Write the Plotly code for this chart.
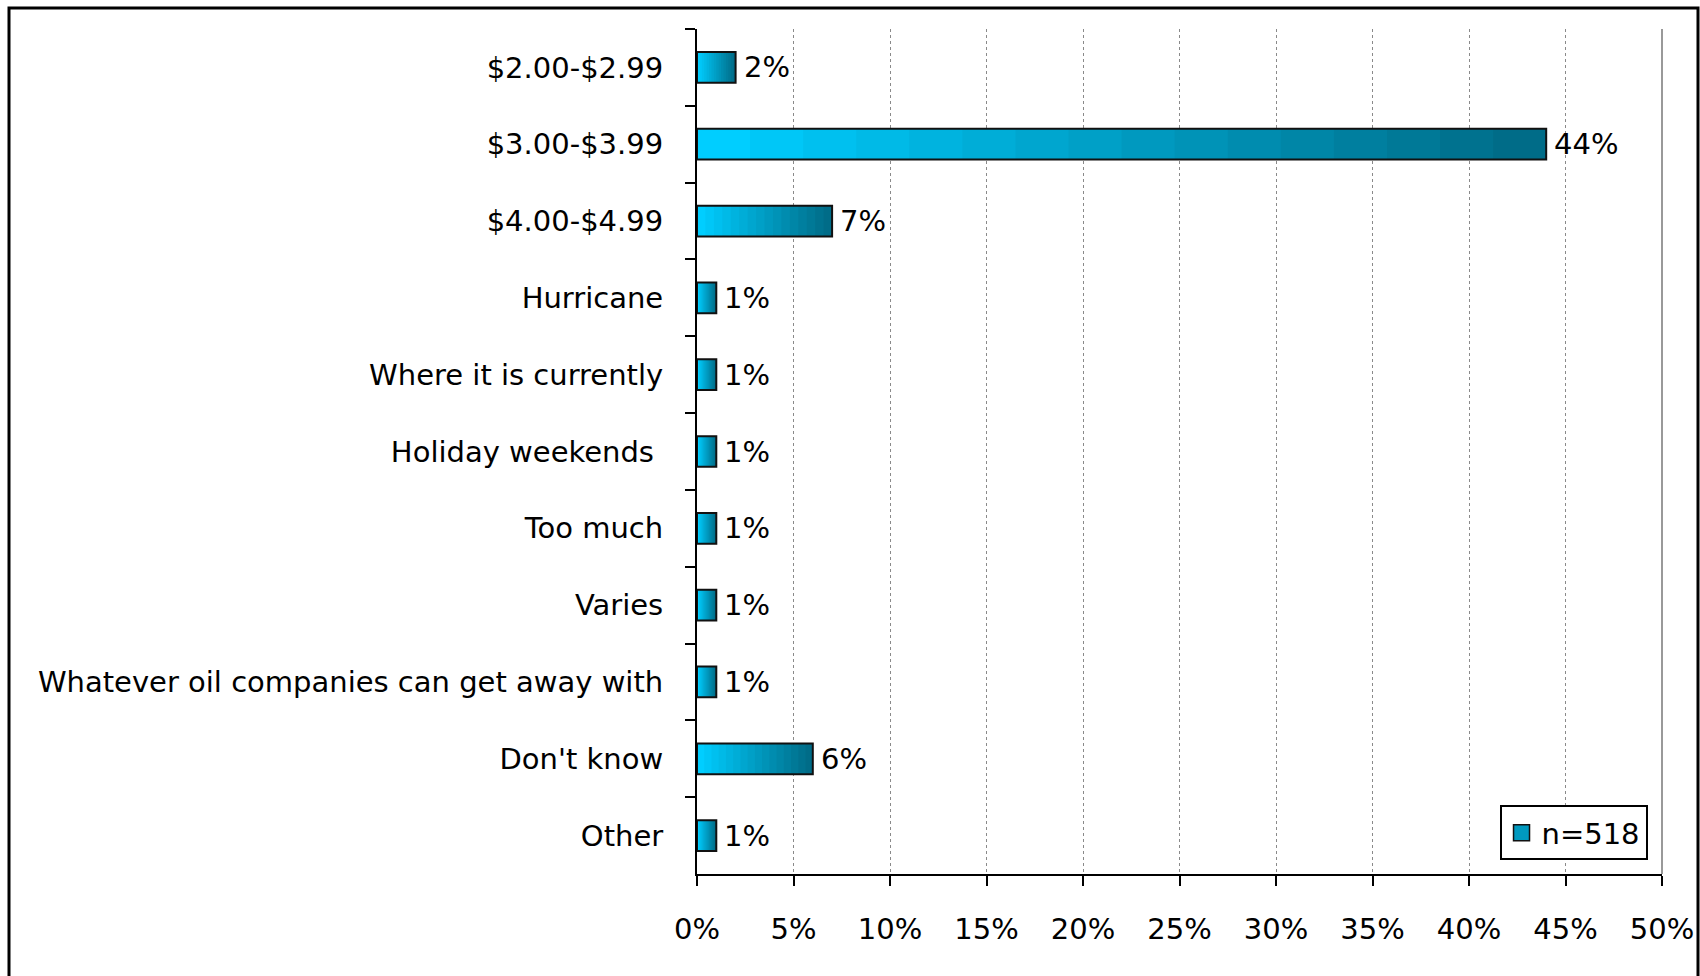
import plotly.graph_objects as go

categories = ["$2.00-$2.99", "$3.00-$3.99", "$4.00-$4.99", "Hurricane",
              "Where it is currently", "Holiday weekends ", "Too much", "Varies",
              "Whatever oil companies can get away with", "Don't know", "Other"]
values = [2, 44, 7, 1, 1, 1, 1, 1, 1, 6, 1]
labels = [f"{v}%" for v in values]
series_name = "n=518"
x_ticks = [0, 5, 10, 15, 20, 25, 30, 35, 40, 45, 50]
x_ticktext = [f"{t}%" for t in x_ticks]

FONT = "DejaVu Sans"
FS = 29
W, H = 1700, 976
ml, mr, mt, mb = 697, 38, 29, 102

fig = go.Figure()

# gradient built from overlaid bars (light at left, dark at right)
dark = (0, 108, 136)
light = (0, 206, 255)
N = 16
for k in range(N):
    frac = (N - k) / N
    t = k / (N - 1)
    c = tuple(int(dark[i] + (light[i] - dark[i]) * t) for i in range(3))
    fig.add_trace(go.Bar(
        y=categories, x=[v * frac for v in values], orientation="h",
        marker=dict(color=f"rgb{c}", line=dict(width=0)),
        width=0.4, showlegend=False, hoverinfo="skip"))

# outline
fig.add_trace(go.Bar(
    y=categories, x=values, orientation="h", name=series_name,
    marker=dict(color="rgba(0,0,0,0)", line=dict(color="#111111", width=2)),
    width=0.4, showlegend=False))
# legend entry
fig.add_trace(go.Scatter(
    x=[None], y=[None], mode="markers", name=series_name,
    marker=dict(symbol="square", size=16, color="#0099BF",
                line=dict(color="#111111", width=1.5)),
    showlegend=True))

for cat, v, lab in zip(categories, values, labels):
    fig.add_annotation(x=v, y=cat, text=lab, showarrow=False,
                       xanchor="left", yanchor="middle", xshift=6,
                       font=dict(family=FONT, size=FS, color="black"))

fig.update_layout(
    width=W, height=H, barmode="overlay",
    paper_bgcolor="white", plot_bgcolor="white",
    margin=dict(l=ml, r=mr, t=mt, b=mb, autoexpand=False),
    font=dict(family=FONT, size=FS, color="black"),
    showlegend=True,
    legend=dict(x=0.985, y=0.016, xanchor="right", yanchor="bottom",
                bordercolor="black", borderwidth=2, bgcolor="white",
                font=dict(size=FS, family=FONT), itemwidth=30),
)
fig.update_xaxes(
    range=[0, 50], tickvals=x_ticks, ticktext=x_ticktext, automargin=False,
    showgrid=True, gridcolor="#8a8a8a", griddash="dot", gridwidth=1,
    showline=True, linecolor="black", linewidth=2,
    ticks="outside", ticklen=10, tickwidth=2, tickcolor="black",
    ticklabelstandoff=18, ticklabeloverflow="allow",
    tickfont=dict(size=FS, family=FONT),
    mirror=False, zeroline=False)
fig.update_yaxes(
    categoryorder="array", categoryarray=categories, autorange="reversed",
    automargin=False,
    showline=True, linecolor="black", linewidth=2,
    ticks="outside", ticklen=10, tickwidth=2, tickcolor="black",
    tickson="boundaries", ticklabelstandoff=26,
    tickfont=dict(size=FS, family=FONT), showgrid=False)

# right edge of plot area
fig.add_shape(type="line", xref="paper", yref="paper", x0=1, x1=1, y0=0, y1=1,
              line=dict(color="#999999", width=2))
# outer frame
pw = W - ml - mr
ph = H - mt - mb
fig.add_shape(type="rect", xref="paper", yref="paper",
              x0=(9 - ml) / pw, x1=(1698 - ml) / pw,
              y0=(H - mb - 1010) / ph, y1=(H - mb - 8) / ph,
              line=dict(color="black", width=3), layer="below")

fig.write_html("out.html", config={"displayModeBar": False},
               post_script="document.body.style.margin='0';"
                           "document.body.style.overflow='hidden';")
